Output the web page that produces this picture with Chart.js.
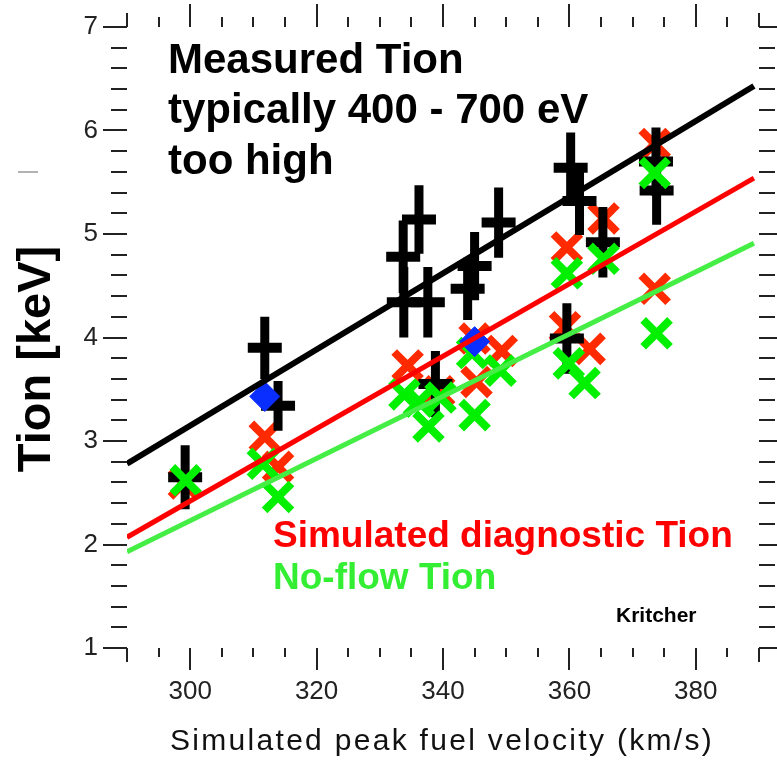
<!DOCTYPE html>
<html>
<head>
<meta charset="utf-8">
<script src="https://cdn.jsdelivr.net/npm/chart.js@4.4.0/dist/chart.umd.min.js"></script>
<style>
  html, body { margin: 0; padding: 0; background: #fff; }
  canvas { display: block; }
</style>
</head>
<body>
<canvas id="chart" width="777" height="760"></canvas>
<script>
const X_TICKS = [300, 320, 340, 360, 380];
const Y_TICKS = [1, 2, 3, 4, 5, 6, 7];

// measured Tion with error bars (black)
const measX   = [299.2, 311.8, 313.9, 336.2, 333.7, 333.8, 337.6, 338.8, 343.9, 345.0, 348.8, 360.2, 361.6, 365.3, 359.6, 373.7, 373.8];
const measY   = [2.65, 3.90, 3.34, 5.14, 4.78, 4.34, 4.34, 3.55, 4.47, 4.69, 5.11, 5.64, 5.32, 4.92, 3.99, 5.70, 5.42];
const measErr = [0.31, 0.30, 0.24, 0.33, 0.35, 0.34, 0.34, 0.32, 0.30, 0.33, 0.34, 0.34, 0.33, 0.34, 0.34, 0.33, 0.33];

// simulated diagnostic Tion (red x)
const diagX = [299.0, 311.8, 313.9, 334.4, 339.4, 345.0, 345.3, 349.3, 359.6, 359.3, 363.2, 365.4, 373.5, 373.5];
const diagY = [2.59, 3.04, 2.75, 3.73, 3.48, 3.99, 3.57, 3.87, 4.87, 4.10, 3.89, 5.15, 5.87, 4.47];

// no-flow Tion (green x)
const noflowX = [299.3, 311.5, 313.9, 333.9, 336.2, 337.7, 339.6, 344.6, 345.0, 349.1, 359.6, 359.9, 362.4, 365.4, 373.5, 373.8];
const noflowY = [2.62, 2.78, 2.46, 3.45, 3.38, 3.14, 3.42, 3.85, 3.25, 3.68, 4.62, 3.75, 3.56, 4.76, 5.59, 4.04];

// blue diamonds
const blueX = [311.8, 345.0];
const blueY = [3.43, 3.96];

// linear trend lines
const fitX      = [290, 389.2];
const measFit   = [2.78, 6.43];
const diagFit   = [2.07, 5.54];
const noflowFit = [1.93, 4.91];

const pts = (xs, ys) => xs.map((v, i) => ({ x: v, y: ys[i] }));
const FONT = '"Liberation Sans", Arial, Helvetica, sans-serif';

// ticks sit outside the frame, no axis lines; x labels drawn here too
const frameTicks = {
  id: 'frameTicks',
  afterDraw(chart) {
    const { ctx, chartArea: a, scales: { x, y } } = chart;
    ctx.save();
    ctx.strokeStyle = '#222';
    ctx.lineWidth = 2;
    ctx.beginPath();
    for (let v = 290; v <= 390; v += 5) {
      const px = Math.round(x.getPixelForValue(v));
      const major = X_TICKS.includes(v);
      const edge = v === 290 || v === 390;
      const bot = major ? 22 : edge ? 14 : 9;
      const top = major ? 23 : edge ? 14 : 10;
      ctx.moveTo(px, a.bottom); ctx.lineTo(px, a.bottom + bot);
      ctx.moveTo(px, a.top);    ctx.lineTo(px, a.top - top);
    }
    for (let i = 0; i <= 30; i++) {
      const py = Math.round(y.getPixelForValue(1 + i * 0.2));
      const len = i % 5 === 0 ? 24 : 16;
      ctx.moveTo(a.left, py);  ctx.lineTo(a.left - len, py);
      ctx.moveTo(a.right, py); ctx.lineTo(a.right + len, py);
    }
    ctx.stroke();

    ctx.fillStyle = '#222';
    ctx.font = `26px ${FONT}`;
    ctx.textAlign = 'center';
    ctx.textBaseline = 'alphabetic';
    X_TICKS.forEach(v => ctx.fillText(String(v), x.getPixelForValue(v), a.bottom + 51));
    ctx.restore();
  }
};

const errorBars = {
  id: 'errorBars',
  afterDatasetDraw(chart, args) {
    if (chart.data.datasets[args.index].label !== 'Measured Tion') return;
    const { ctx, scales: { x, y } } = chart;
    ctx.save();
    ctx.strokeStyle = '#000';
    ctx.lineWidth = 9;
    ctx.beginPath();
    measX.forEach((mx, i) => {
      const px = x.getPixelForValue(mx);
      ctx.moveTo(px, y.getPixelForValue(measY[i] + measErr[i]));
      ctx.lineTo(px, y.getPixelForValue(measY[i] - measErr[i]));
    });
    ctx.stroke();
    ctx.restore();
  }
};

const notes = {
  id: 'notes',
  afterDraw(chart) {
    const ctx = chart.ctx;
    ctx.save();
    ctx.textAlign = 'left';
    ctx.textBaseline = 'alphabetic';
    ctx.fillStyle = '#000';
    ctx.font = `bold 42px ${FONT}`;
    ctx.fillText('Measured Tion', 168, 73);
    ctx.fillText('typically 400 - 700 eV', 168, 123);
    ctx.fillText('too high', 168, 174);

    ctx.font = `bold 37px ${FONT}`;
    ctx.fillStyle = '#ff0000';
    ctx.fillText('Simulated diagnostic Tion', 273, 547);
    ctx.fillStyle = '#33ee33';
    ctx.fillText('No-flow Tion', 273, 589);

    ctx.fillStyle = '#000';
    ctx.font = `bold 21px ${FONT}`;
    ctx.fillText('Kritcher', 616, 622);

    // x axis title
    ctx.fillStyle = '#111';
    ctx.font = `30px ${FONT}`;
    ctx.letterSpacing = '2.3px';
    ctx.textAlign = 'center';
    ctx.fillText('Simulated peak fuel velocity (km/s)', 442, 750);
    ctx.letterSpacing = '0px';

    // y axis title
    ctx.translate(50, 359);
    ctx.rotate(-Math.PI / 2);
    ctx.fillStyle = '#000';
    ctx.font = `bold 47px ${FONT}`;
    ctx.fillText('Tion [keV]', 0, 0);
    ctx.restore();

    // stray mark left of the axis title
    ctx.save();
    ctx.strokeStyle = '#999';
    ctx.lineWidth = 1.5;
    ctx.beginPath();
    ctx.moveTo(18, 172); ctx.lineTo(38, 172);
    ctx.stroke();
    ctx.restore();
  }
};

const lineSet = (label, ys, color, width) => ({
  label, data: pts(fitX, ys), showLine: true, borderColor: color,
  borderWidth: width, pointRadius: 0, order: 0,
});

new Chart(document.getElementById('chart'), {
  type: 'scatter',
  data: {
    datasets: [
      lineSet('Measured fit', measFit, '#000000', 6),
      lineSet('Diagnostic fit', diagFit, '#ff0000', 5),
      lineSet('No-flow fit', noflowFit, '#44ee44', 5),
      { label: 'Blue', data: pts(blueX, blueY), pointStyle: 'rectRot', pointRadius: 15,
        backgroundColor: '#0a2eff', borderColor: '#0a2eff', borderWidth: 1, order: 1 },
      { label: 'No-flow Tion', data: pts(noflowX, noflowY), pointStyle: 'crossRot', pointRadius: 19,
        borderColor: '#00f000', borderWidth: 8, order: 2 },
      { label: 'Measured Tion', data: pts(measX, measY), pointStyle: 'line', pointRadius: 17,
        borderColor: '#000', borderWidth: 10, order: 3 },
      { label: 'Simulated diagnostic Tion', data: pts(diagX, diagY), pointStyle: 'crossRot', pointRadius: 19,
        borderColor: '#ff2a00', borderWidth: 8, order: 4 },
    ]
  },
  options: {
    responsive: false,
    animation: false,
    devicePixelRatio: 1,
    layout: { autoPadding: false, padding: { top: 27, right: 18, left: 0, bottom: 0 } },
    plugins: { legend: { display: false }, tooltip: { enabled: false } },
    scales: {
      x: {
        type: 'linear', min: 290, max: 390,
        grid: { display: false }, border: { display: false },
        afterBuildTicks: s => { s.ticks = X_TICKS.map(v => ({ value: v })); },
        afterFit: s => { s.height = 112; s.paddingLeft = 0; s.paddingRight = 0; },
        ticks: { display: false },
      },
      y: {
        type: 'linear', min: 1, max: 7,
        grid: { display: false }, border: { display: false },
        afterBuildTicks: s => { s.ticks = Y_TICKS.map(v => ({ value: v })); },
        afterFit: s => { s.width = 127; s.paddingTop = 0; s.paddingBottom = 0; },
        ticks: { color: '#222', padding: 21, font: { family: FONT, size: 26 } },
      },
    },
  },
  plugins: [frameTicks, errorBars, notes],
});
</script>
</body>
</html>
